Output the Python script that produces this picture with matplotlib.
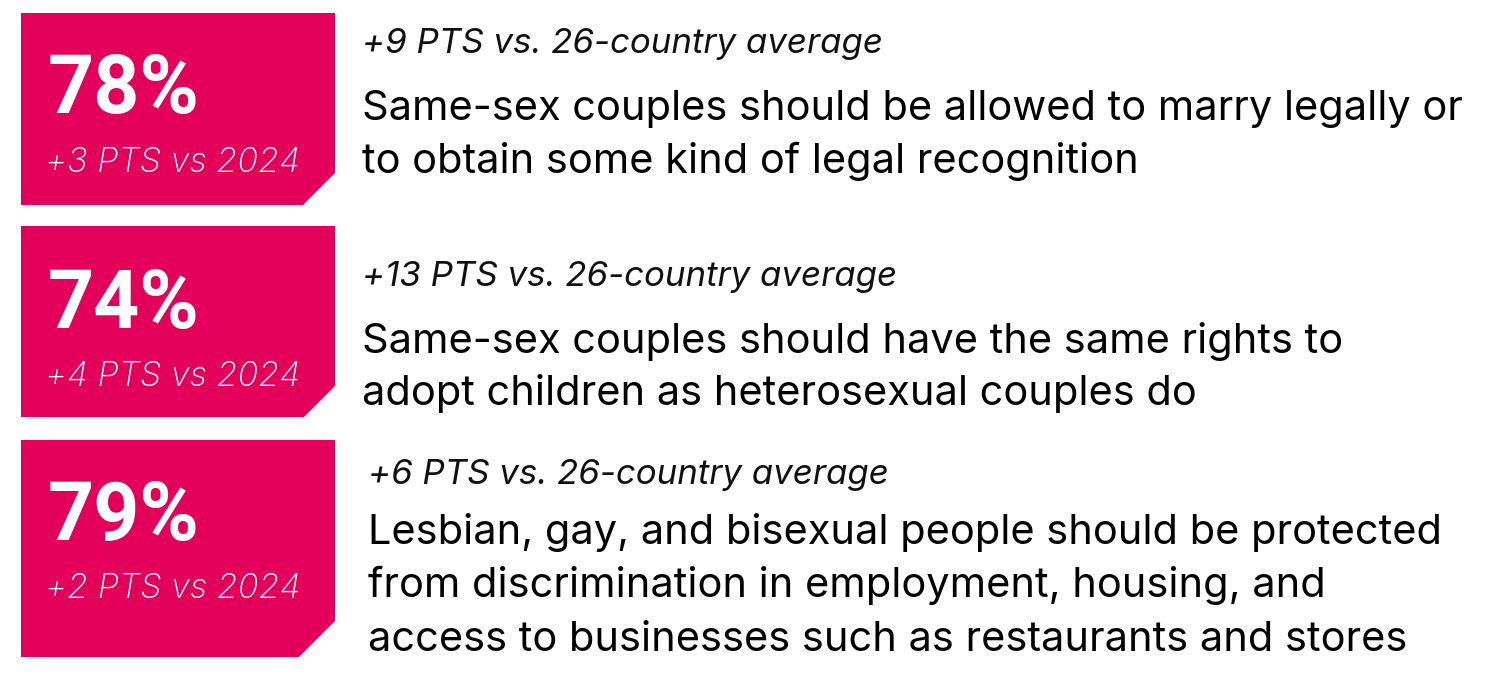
import matplotlib
matplotlib.use('Agg')
import matplotlib.pyplot as plt
from matplotlib.patches import Polygon

# data
pct_values = ['78%', '74%', '79%']
vs_2024 = ['+3 PTS vs 2024', '+4 PTS vs 2024', '+2 PTS vs 2024']
vs_average = ['+9 PTS vs. 26-country average',
              '+13 PTS vs. 26-country average',
              '+6 PTS vs. 26-country average']
statements = [
    ['Same-sex couples should be allowed to marry legally or',
     'to obtain some kind of legal recognition'],
    ['Same-sex couples should have the same rights to',
     'adopt children as heterosexual couples do'],
    ['Lesbian, gay, and bisexual people should be protected',
     'from discrimination in employment, housing, and',
     'access to businesses such as restaurants and stores'],
]

# layout (pixels, y down)
box_top = [13, 226, 440]
box_bottom = [205, 417, 657]
box_cut = [32, 31, 36]
box_left, box_right = 21, 335
text_x = [362, 362, 368]
avg_base = [53, 286, 484]
line_base = [[120, 173], [353, 405], [544, 597, 651]]
pct_base = [113, 328, 540]
sub_base = [172, 386, 598]

PINK = '#E3005A'

fig = plt.figure(figsize=(14.97, 6.91), dpi=100)
ax = fig.add_axes([0, 0, 1, 1])
ax.set_xlim(0, 1497)
ax.set_ylim(691, 0)
ax.axis('off')

for i in range(3):
    t, b, c = box_top[i], box_bottom[i], box_cut[i]
    pts = [(box_left, t), (box_right, t), (box_right, b - c),
           (box_right - c, b), (box_left, b)]
    ax.add_patch(Polygon(pts, closed=True, facecolor=PINK, edgecolor='none'))

    ax.text(48, pct_base[i], pct_values[i], color='white', family='Roboto',
            fontweight='bold', fontsize=58, va='baseline', ha='left')
    ax.text(45, sub_base[i], vs_2024[i], color='white', family='Inter',
            fontweight='light', style='italic', fontsize=24.6,
            va='baseline', ha='left')

    ax.text(text_x[i], avg_base[i], vs_average[i], color='#111111',
            family='Inter', style='italic', fontsize=25.1,
            va='baseline', ha='left')
    for line, yb in zip(statements[i], line_base[i]):
        ax.text(text_x[i], yb, line, color='black', family='Inter',
                fontsize=29.9, va='baseline', ha='left')

fig.savefig('out.png', dpi=100, facecolor='white')
